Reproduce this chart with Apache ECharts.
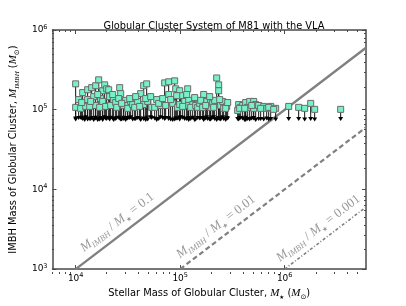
<!DOCTYPE html>
<html><head><meta charset="utf-8">
<script src="https://cdn.jsdelivr.net/npm/echarts@6/dist/echarts.min.js"></script>
<style>html,body{margin:0;padding:0;background:#fff}#c{width:406px;height:306px}</style>
</head><body><div id="c"></div>
<script>
// Stellar mass of each globular cluster (M_sun)
const clusterMass = [10000,10000,10680,11670,12190,11160,13020,13020,12460,13610,14230,14870,15540,15540,16600,16970,17350,18130,18130,18950,19800,20700,21150,19370,21630,23100,24150,24690,26370,26960,28800,28800,30100,31460,31460,33600,35120,36700,39200,41890,44750,47800,44750,48870,53370,57020,59590,65070,71060,77620,88580,90560,98900,77620,84760,72640,94640,98900,101100,110400,118000,120600,120600,131700,126000,140700,147100,153700,167800,179300,183300,164200,195800,195800,204600,213800,223500,233600,233600,244100,255100,260800,278600,272500,284800,355000,362900,379300,396500,423500,423500,442600,462600,505200,505200,527900,563800,629600,672800,734800,820000,1092000,1361000,1554000,1774000,1937000,3435000,11410,13920,16240,22600,25800,27560,32870,37520,40970,46760,52210,62270,68000,81110,92580,105700,115400,137600,157100,175400,191600,209200,238800,371000,414300,483400,589300,703100,785000];
// IMBH mass upper limit (square markers)
const imbhLimit = [2.11e5,1.07e5,1.34e5,1.64e5,1.13e5,1.04e5,1.78e5,1.34e5,1.10e5,1.10e5,1.89e5,1.46e5,2.00e5,1.13e5,2.37e5,1.07e5,1.38e5,1.73e5,1.27e5,2.05e5,1.83e5,1.78e5,1.46e5,1.10e5,1.13e5,1.34e5,1.23e5,1.07e5,1.89e5,1.59e5,1.27e5,1.13e5,1.31e5,1.13e5,1.04e5,1.27e5,1.16e5,1.07e5,1.27e5,1.59e5,2.00e5,2.11e5,1.16e5,1.27e5,1.07e5,1.07e5,1.34e5,1.13e5,2.17e5,2.24e5,2.30e5,1.83e5,1.73e5,1.55e5,1.20e5,1.13e5,1.07e5,1.16e5,1.50e5,1.27e5,1.83e5,1.31e5,1.13e5,1.16e5,1.07e5,1.13e5,1.07e5,1.20e5,1.55e5,1.27e5,1.10e5,1.07e5,1.27e5,1.07e5,1.20e5,1.31e5,2.50e5,2.05e5,1.73e5,1.13e5,1.27e5,1.04e5,1.10e5,1.04e5,1.23e5,0.98e5,1.16e5,1.07e5,1.13e5,1.10e5,1.23e5,1.07e5,1.27e5,1.27e5,1.04e5,1.16e5,1.13e5,1.10e5,1.04e5,1.10e5,1.04e5,1.10e5,1.07e5,1.04e5,1.20e5,1.01e5,1.01e5,1.23e5,1.27e5,1.55e5,1.55e5,1.38e5,1.20e5,1.38e5,1.46e5,1.10e5,1.38e5,1.46e5,1.20e5,1.38e5,1.34e5,1.50e5,1.10e5,1.55e5,1.42e5,1.31e5,1.13e5,1.46e5,1.07e5,1.34e5,1.04e5,1.04e5,1.13e5,1.04e5,1.07e5,1.01e5];
// arrow tip of each upper-limit arrow
const arrowEnd = [7.3e4,7.1e4,7.4e4,7.2e4,7.0e4,7.5e4,7.3e4,7.1e4,7.6e4,7.2e4,7.4e4,7.0e4,7.3e4,7.5e4,7.2e4,7.1e4,7.4e4,7.3e4,7.0e4,7.6e4,7.2e4,7.4e4,7.1e4,7.3e4,7.5e4,7.0e4,7.2e4,7.4e4,7.3e4,7.1e4,7.5e4,7.2e4,7.0e4,7.4e4,7.3e4,7.6e4,7.1e4,7.2e4,7.4e4,7.0e4,7.3e4,7.5e4,7.2e4,7.1e4,7.4e4,7.3e4,7.0e4,7.6e4,7.2e4,7.4e4,7.1e4,7.3e4,7.5e4,7.2e4,7.0e4,7.4e4,7.3e4,7.1e4,7.6e4,7.2e4,7.4e4,7.0e4,7.3e4,7.5e4,7.2e4,7.1e4,7.4e4,7.3e4,7.0e4,7.6e4,7.2e4,7.4e4,7.1e4,7.3e4,7.5e4,7.2e4,7.0e4,7.4e4,7.3e4,7.1e4,7.6e4,7.2e4,7.4e4,7.0e4,7.3e4,7.2e4,7.1e4,7.4e4,7.3e4,7.0e4,7.5e4,7.2e4,7.1e4,7.4e4,7.3e4,7.0e4,7.2e4,7.1e4,7.3e4,7.2e4,7.1e4,7.2e4,7.2e4,7.1e4,7.2e4,7.1e4,7.2e4,7.4e4,7.2e4,7.0e4,7.3e4,7.5e4,7.1e4,7.4e4,7.2e4,7.3e4,7.0e4,7.6e4,7.2e4,7.4e4,7.1e4,7.3e4,7.5e4,7.2e4,7.0e4,7.4e4,7.3e4,7.1e4,7.6e4,7.2e4,7.4e4,7.0e4,7.3e4,7.2e4,7.1e4];
const majorX = [1e4, 1e5, 1e6];
const majorY = [1e3, 1e4, 1e5, 1e6];
const minorX = [6e3,7e3,8e3,9e3,2e4,3e4,4e4,5e4,6e4,7e4,8e4,9e4,2e5,3e5,4e5,5e5,6e5,7e5,8e5,9e5,2e6,3e6,4e6,5e6];
const minorY = [2e3,3e3,4e3,5e3,6e3,7e3,8e3,9e3,2e4,3e4,4e4,5e4,6e4,7e4,8e4,9e4,2e5,3e5,4e5,5e5,6e5,7e5,8e5,9e5];
const ratios = [0.1, 0.01, 0.001];
const ratioText = ['0.1', '0.01', '0.001'];

const X_MIN = 6e3, X_MAX = 6e6, Y_MIN = 1e3, Y_MAX = 1e6;
const AX = '#4a4a4a';
const GRID = {left: 52, top: 30, right: 40, bottom: 32};

const tickRich = {
  b: {fontSize: 9, fontFamily: 'DejaVu Sans', color: '#000', lineHeight: 13},
  e: {fontSize: 6.5, fontFamily: 'DejaVu Sans', color: '#000', lineHeight: 13, verticalAlign: 'top'}
};
function expFmt(v) { return '{b|10}{e|' + Math.round(Math.log10(v)) + '}'; }

function axis(dim, pos, grid, ticks, len, labels, line) {
  return {
    type: 'log', logBase: 10, gridIndex: grid, position: pos,
    min: dim === 'x' ? X_MIN : Y_MIN, max: dim === 'x' ? X_MAX : Y_MAX,
    axisLine: {show: line, onZero: false, lineStyle: {color: AX, width: 1.5}},
    axisTick: {show: true, inside: true, length: len, customValues: ticks, lineStyle: {color: AX, width: 1}},
    axisLabel: {show: labels, customValues: ticks, formatter: expFmt, rich: tickRich, margin: dim === 'x' ? 3 : 5},
    splitLine: {show: false}, minorTick: {show: false}, minorSplitLine: {show: false}
  };
}

const nameRich = {
  t: {fontSize: 9.9, fontFamily: 'DejaVu Sans', color: '#000', lineHeight: 15},
  m: {fontSize: 11, fontFamily: 'Liberation Serif', fontStyle: 'italic', color: '#000', lineHeight: 15},
  s: {fontSize: 7, fontFamily: 'Liberation Serif', fontStyle: 'italic', color: '#000', lineHeight: 15, verticalAlign: 'bottom'},
  k: {fontSize: 7, fontFamily: 'DejaVu Sans', color: '#000', lineHeight: 15, verticalAlign: 'bottom'},
  st: {fontSize: 5.5, fontFamily: 'DejaVu Sans', color: '#000', lineHeight: 15, verticalAlign: 'bottom'}
};

const xAxes = [
  Object.assign(axis('x', 'bottom', 0, majorX, 4, true, true), {
    name: '{t|Stellar Mass of Globular Cluster, }{m|M}{st|★}{t| (}{m|M}{k|⊙}{t|)}',
    nameLocation: 'middle', nameGap: 14, nameTextStyle: {rich: nameRich}
  }),
  axis('x', 'top', 0, majorX, 4, false, true),
  axis('x', 'bottom', 1, minorX, 2, false, false),
  axis('x', 'top', 1, minorX, 2, false, false)
];
const yAxes = [
  Object.assign(axis('y', 'left', 0, majorY, 4, true, true), {
    name: '{t|IMBH Mass of Globular Cluster, }{m|M}{s|IMBH}{t| (}{m|M}{k|⊙}{t|)}',
    nameLocation: 'middle', nameGap: 27, nameRotate: 90, nameTextStyle: {rich: nameRich}
  }),
  axis('y', 'right', 0, majorY, 4, false, true),
  axis('y', 'left', 1, minorY, 2, false, false),
  axis('y', 'right', 1, minorY, 2, false, false)
];

const lineTypes = ['solid', [5, 3], [3, 2, 1, 2]];
const lineWidths = [2.4, 2.2, 1.6];
const ratioSeries = ratios.map((r, i) => ({
  type: 'line', xAxisIndex: 0, yAxisIndex: 0, silent: true, symbol: 'none', z: 1,
  data: [[Y_MIN / r, Y_MIN], [X_MAX, X_MAX * r]],
  lineStyle: {color: '#808080', width: lineWidths[i], type: lineTypes[i]}
}));

const points = clusterMass.map((m, i) => [m, imbhLimit[i], arrowEnd[i]]);

const chart = echarts.init(document.getElementById('c'), null, {renderer: 'canvas'});
chart.setOption({
  animation: false,
  backgroundColor: '#fff',
  title: {
    text: 'Globular Cluster System of M81 with the VLA', left: 209, top: 16, textAlign: 'center',
    textStyle: {fontSize: 9.8, fontWeight: 'normal', fontFamily: 'DejaVu Sans', color: '#000'}
  },
  grid: [Object.assign({}, GRID), Object.assign({}, GRID)],
  xAxis: xAxes,
  yAxis: yAxes,
  series: ratioSeries.concat([
    {
      type: 'custom', xAxisIndex: 0, yAxisIndex: 0, z: 2, silent: true,
      data: points, encode: {x: 0, y: 1},
      renderItem: function (params, api) {
        const top = api.coord([api.value(0), api.value(1)]);
        const bot = api.coord([api.value(0), api.value(2)]);
        return {type: 'group', children: [
          {type: 'line', shape: {x1: top[0], y1: top[1], x2: bot[0], y2: bot[1] - 2}, style: {stroke: '#111', lineWidth: 1}},
          {type: 'polygon', shape: {points: [[bot[0] - 2.5, bot[1] - 4], [bot[0] + 2.5, bot[1] - 4], [bot[0], bot[1]]]}, style: {fill: '#000'}}
        ]};
      }
    },
    {
      type: 'scatter', xAxisIndex: 0, yAxisIndex: 0, z: 3, silent: true,
      data: points.map(p => [p[0], p[1]]), symbol: 'rect', symbolSize: 6,
      itemStyle: {color: '#77f2c8', borderColor: '#6a6a6a', borderWidth: 1, opacity: 1}
    }
  ])
});

// ratio labels placed along each line
const labelAt = [2.5e4, 2.2e5, 2.1e6];
const c0 = chart.convertToPixel({xAxisIndex: 0, yAxisIndex: 0}, [1e4, 1e3]);
const c1 = chart.convertToPixel({xAxisIndex: 0, yAxisIndex: 0}, [1e5, 1e4]);
const angle = Math.atan2(c0[1] - c1[1], c1[0] - c0[0]);
const lblRich = {
  m: {fontSize: 13, fontFamily: 'Liberation Serif', fontStyle: 'italic', fill: '#999', lineHeight: 17},
  s: {fontSize: 8.5, fontFamily: 'Liberation Serif', fontStyle: 'italic', fill: '#999', lineHeight: 17, verticalAlign: 'bottom'},
  k: {fontSize: 6.5, fontFamily: 'DejaVu Sans', fill: '#999', lineHeight: 17, verticalAlign: 'bottom'},
  n: {fontSize: 13, fontFamily: 'Liberation Serif', fill: '#999', lineHeight: 17}
};
const graphics = ratios.map((r, i) => {
  const p = chart.convertToPixel({xAxisIndex: 0, yAxisIndex: 0}, [labelAt[i], labelAt[i] * r]);
  return {
    type: 'text', x: p[0], y: p[1] - 15, rotation: angle, z: 10, silent: true,
    style: {
      text: '{m|M}{s|IMBH}{n| / }{m|M}{k|★}{n| = ' + ratioText[i] + '}',
      rich: lblRich, align: 'center', verticalAlign: 'middle', fill: '#999'
    }
  };
});
chart.setOption({graphic: graphics});
</script></body></html>
